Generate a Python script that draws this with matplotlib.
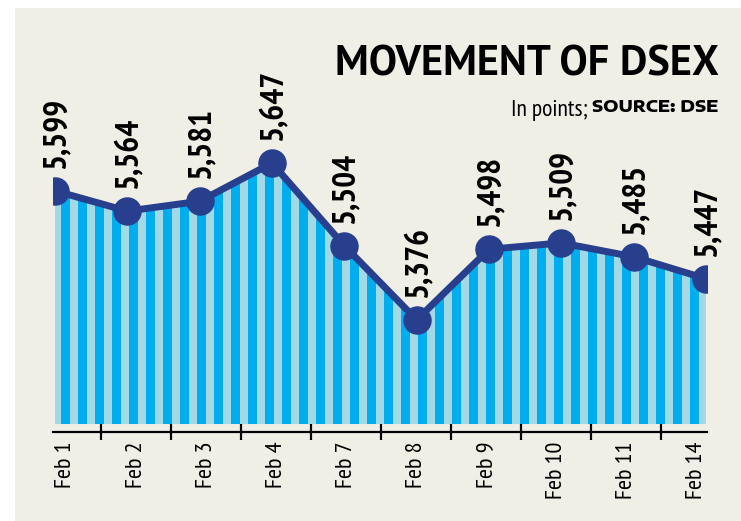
import numpy as np
import matplotlib
matplotlib.use('Agg')
import matplotlib.pyplot as plt
from matplotlib.patches import Rectangle

# data
dates = ['Feb 1', 'Feb 2', 'Feb 3', 'Feb 4', 'Feb 7',
         'Feb 8', 'Feb 9', 'Feb 10', 'Feb 11', 'Feb 14']
dsex = [5599, 5564, 5581, 5647, 5504, 5376, 5498, 5509, 5485, 5447]

bg = '#f0efe5'
navy = '#283f8e'
dark_blue = '#00aeef'
light_blue = '#a2d9e5'
cond = ['PT Sans Narrow', 'Liberation Sans', 'DejaVu Sans']
semi = ['PT Sans', 'Liberation Sans', 'DejaVu Sans']
wide = ['Encode Sans Expanded', 'DejaVu Sans']

fig = plt.figure(figsize=(7.41, 5.21), dpi=100)
fig.patch.set_facecolor('white')
fig.add_artist(Rectangle((15 / 741, 0), 1, 513 / 521, transform=fig.transFigure,
                         facecolor=bg, edgecolor='none', zorder=-10))

x = np.arange(len(dsex))
ymin, ymax = 5196, 5915

ax = fig.add_axes([53 / 741, 97 / 521, 654 / 741, 416 / 521])
ax.set_facecolor('none')
ax.set_xlim(-2 / 72.33, 9 + 1 / 72.33)
ax.set_ylim(ymin, ymax)

# striped area under the line
verts = [(x[0], ymin)] + list(zip(x, dsex)) + [(x[-1], ymin)]
area = ax.fill([v[0] for v in verts], [v[1] for v in verts],
               facecolor=light_blue, edgecolor='none', zorder=1)[0]
period = 17 / 72.33
starts = np.arange(6 / 72.33, x[-1], period)
bars = ax.bar(starts, ymax - ymin, bottom=ymin, width=9 / 72.33, align='edge',
              color=dark_blue, linewidth=0, zorder=2)
for b in bars:
    b.set_clip_path(area)

ax.plot(x, dsex, color=navy, lw=5, marker='o', ms=19.5, zorder=3,
        solid_capstyle='round')

for xi, v in zip(x, dsex):
    ax.annotate(f'{v:,}', (xi, v), xytext=(1, 16), textcoords='offset points',
                rotation=90, ha='center', va='bottom', fontsize=24,
                fontweight='bold', family=cond, color='black')

# axes styling
for s in ['left', 'right', 'top']:
    ax.spines[s].set_visible(False)
ax.spines['bottom'].set_position(('outward', 5.8))
ax.spines['bottom'].set_linewidth(1.6)
ax.set_yticks([])

label_pos = 0.152 + 0.968 * x
ax.set_xticks(label_pos)
ax.set_xticklabels(dates, rotation=90, fontsize=17.5, family=cond, va='top')
ax.tick_params(axis='x', which='major', length=0, pad=7)
ax.set_xticks(label_pos[:-1] + 0.484, minor=True)
ax.tick_params(axis='x', which='minor', direction='inout', length=11.5, width=1.6)

# titles
fig.text(719 / 741, 1 - 75 / 521, 'MOVEMENT OF DSEX', ha='right', va='baseline',
         fontsize=30.5, fontweight='bold', family=semi)
src = fig.text(718 / 741, 1 - 112 / 521, 'SOURCE: DSE', ha='right', va='baseline',
               fontsize=12, fontweight='heavy', family=wide)
ax.annotate('In points;', xy=(0, 0), xycoords=src, xytext=(-3, 0),
            textcoords='offset points', ha='right', va='baseline',
            fontsize=17, family=cond, annotation_clip=False)

fig.savefig('out.png', dpi=100)
